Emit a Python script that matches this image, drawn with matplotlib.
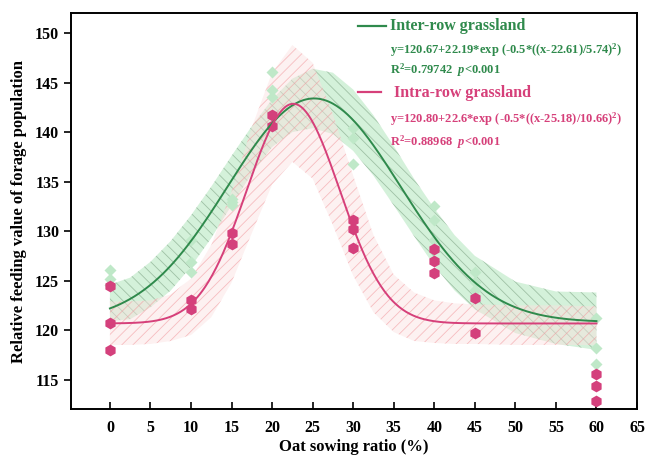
import numpy as np
import matplotlib
matplotlib.use('Agg')
from matplotlib import pyplot as plt
from matplotlib.lines import Line2D

plt.rcParams['font.family'] = 'Liberation Serif'
plt.rcParams['font.weight'] = 'bold'
plt.rcParams['mathtext.fontset'] = 'custom'
plt.rcParams['mathtext.rm'] = 'Liberation Serif:bold'
plt.rcParams['mathtext.it'] = 'Liberation Serif:bold:italic'
plt.rcParams['mathtext.bf'] = 'Liberation Serif:bold'
plt.rcParams['hatch.linewidth'] = 0.6

GREEN = '#2f8a4c'
PINK = '#d6407a'

# measured points (oat sowing ratio, feeding value)
inter_x = [0, 0, 0, 10, 10, 10, 15, 15, 15, 20, 20, 20, 30, 30, 30, 40, 40, 40, 45, 45, 45, 60, 60, 60]
inter_y = [126.1, 125.2, 124.6, 129.1, 126.9, 125.9, 133.2, 132.6, 132.9, 146.1, 144.3, 143.5,
           140.4, 139.4, 136.8, 132.5, 131.1, 129.1, 125.9, 124.9, 124.1, 121.2, 118.2, 116.6]
intra_x = [0, 0, 0, 10, 10, 15, 15, 20, 20, 30, 30, 30, 40, 40, 40, 45, 45, 60, 60, 60]
intra_y = [124.5, 120.7, 118.0, 123.0, 122.1, 129.8, 128.7, 141.75, 140.6,
           131.1, 130.2, 128.3, 128.2, 127.0, 125.8, 123.2, 119.7, 115.6, 114.4, 112.8]

# gaussian fit parameters: base, amplitude, centre, width
fit_green = [120.80, 22.6, 25.18, 10.66]
fit_pink = [120.67, 22.19, 22.61, 5.74]

# confidence bands
band_x = [0, 2.5, 5, 7.5, 10, 12.5, 15, 17.5, 20, 22.5, 25, 27.5, 30, 32.5, 35, 37.5, 40, 42.5, 45, 50, 55, 60]
green_hi = [124.6, 125.3, 126.9, 129.0, 131.6, 134.5, 137.6, 140.6, 143.3, 145.4, 146.4, 146.0,
            144.3, 141.7, 138.6, 135.3, 132.3, 129.6, 127.5, 124.9, 123.9, 123.8]
green_lo = [120.9, 121.1, 122.3, 124.0, 126.4, 129.3, 132.6, 135.8, 138.5, 140.0, 140.4, 139.8,
            138.1, 135.6, 132.6, 129.5, 126.5, 124.0, 122.1, 119.7, 118.6, 118.0]
pink_hi = [122.9, 122.9, 123.0, 123.6, 125.2, 128.6, 134.0, 140.5, 146.0, 148.8, 147.0, 141.8,
           135.6, 129.6, 125.6, 123.8, 123.0, 122.7, 122.6, 122.5, 122.5, 122.4]
pink_lo = [118.5, 118.5, 118.6, 118.9, 119.5, 121.3, 124.8, 129.8, 134.7, 137.0, 135.3, 130.6,
           125.5, 121.8, 119.8, 118.9, 118.7, 118.6, 118.6, 118.5, 118.5, 118.5]

xticks = list(range(0, 70, 5))
yticks = [115, 120, 125, 130, 135, 140, 145, 150]


def gauss(x, p):
  return p[0] + p[1] * np.exp(-0.5 * ((x - p[2]) / p[3]) ** 2)


fig = plt.figure(figsize=(6.48, 4.57), dpi=100)
ax = fig.add_axes([71 / 648, 1 - 409.3 / 457, 566 / 648, 396 / 457])

ax.fill_between(band_x, green_lo, green_hi, facecolor=(0.72, 0.91, 0.76, 0.6),
                edgecolor=(0.45, 0.6, 0.48, 0.55), hatch='\\\\\\', linewidth=0, zorder=1)
ax.fill_between(band_x, pink_lo, pink_hi, facecolor=(0.99, 0.88, 0.88, 0.45),
                edgecolor=(0.95, 0.6, 0.62, 0.6), hatch='///', linewidth=0, zorder=1)

ax.plot(inter_x, inter_y, 'D', ms=6.5, color='#bfe8c8', mec='none', zorder=3)
ax.plot(intra_x, intra_y, 'h', ms=8.5, color='#d4407c', mec='none', zorder=3)

xs = np.linspace(0, 60, 400)
ax.plot(xs, gauss(xs, fit_green), color=GREEN, lw=1.4, zorder=4)
ax.plot(xs, gauss(xs, fit_pink), color=PINK, lw=1.4, zorder=5)

ax.set_xlim(-4.8, 65)
ax.set_ylim(112, 152)
ax.set_xticks(xticks)
ax.set_yticks(yticks)
ax.tick_params(axis='x', direction='in', length=5, width=1.2, labelsize=11.5, pad=8)
ax.tick_params(axis='y', direction='out', length=5, width=1.2, labelsize=11.5)
for s in ax.spines.values():
  s.set_linewidth(1.4)
ax.set_xlabel('Oat sowing ratio (%)', fontsize=12, fontweight='bold', labelpad=2)
ax.set_ylabel('Relative feeding value of forage population', fontsize=12, fontweight='bold', labelpad=6)

# legend block
def px(x, y):
  return x / 648, 1 - y / 457

fig.add_artist(Line2D([358 / 648, 386 / 648], [1 - 26 / 457] * 2, color=GREEN, lw=1.6))
fig.add_artist(Line2D([358 / 648, 381 / 648], [1 - 92 / 457] * 2, color=PINK, lw=1.6))
fig.text(*px(390, 26), 'Inter-row grassland', color=GREEN, fontsize=11.5, va='center')
fig.text(*px(390, 50), 'y=120.67+22.19*exp (-0.5*((x-22.61)/5.74)$^{2}$)', color=GREEN, fontsize=9, va='center')
fig.text(*px(390, 70), 'R$^{2}$=0.79742  $p$<0.001', color=GREEN, fontsize=9, va='center')
fig.text(*px(394, 93), 'Intra-row grassland', color=PINK, fontsize=11.5, va='center')
fig.text(*px(390, 119), 'y=120.80+22.6*exp (-0.5*((x-25.18)/10.66)$^{2}$)', color=PINK, fontsize=9, va='center')
fig.text(*px(390, 142), 'R$^{2}$=0.88968  $p$<0.001', color=PINK, fontsize=9, va='center')

fig.savefig('out.png', dpi=100)
